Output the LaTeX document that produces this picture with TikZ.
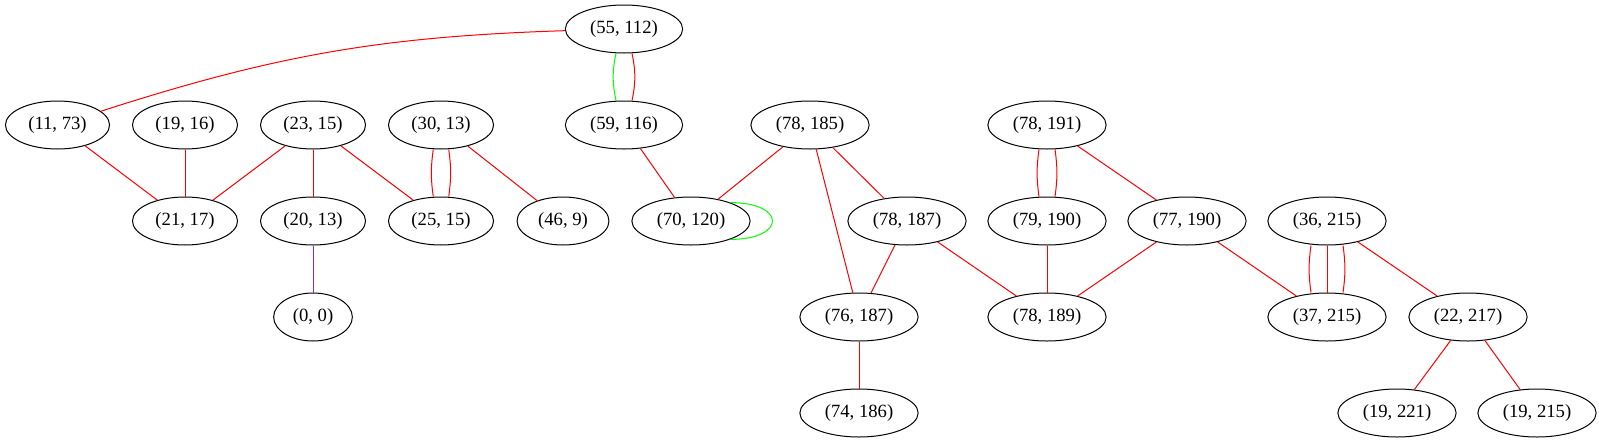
\documentclass[tikz,border=0pt]{standalone}
\usepackage{fontspec}
\setmainfont{Liberation Serif}
\usetikzlibrary{shapes.geometric}
\definecolor{blueviolet}{HTML}{8A2BE2}
\tikzset{
  gnode/.style = {ellipse, draw=black, line width=0.75pt, inner xsep=5.7pt, inner ysep=1pt,
                  minimum height=36pt, font=\fontsize{14}{16}\selectfont},
  e_red/.style = {red, line width=0.75pt},
  e_grn/.style = {green, line width=0.75pt},
  e_vio/.style = {blueviolet, line width=0.75pt},
}

\begin{document}
\begin{tikzpicture}[x=0.75pt, y=-0.75pt]
  \useasboundingbox (0,0) rectangle (1599,443);

  \node [gnode] (n55_112) at (624,29)  {(55, 112)};

  \node [gnode] (n11_73)  at (57.5,125) {(11, 73)};
  \node [gnode] (n19_16)  at (185,125) {(19, 16)};
  \node [gnode] (n23_15)  at (313,125) {(23, 15)};
  \node [gnode] (n30_13)  at (441,125) {(30, 13)};
  \node [gnode] (n59_116) at (624,125) {(59, 116)};
  \node [gnode] (n78_185) at (810,125) {(78, 185)};
  \node [gnode] (n78_191) at (1047,125) {(78, 191)};

  \node [gnode] (n21_17)  at (185,221) {(21, 17)};
  \node [gnode] (n20_13)  at (313,221) {(20, 13)};
  \node [gnode] (n25_15)  at (441,221) {(25, 15)};
  \node [gnode] (n46_9)   at (563,221) {(46, 9)};
  \node [gnode] (n70_120) at (691,221) {(70, 120)};
  \node [gnode] (n78_187) at (907,221) {(78, 187)};
  \node [gnode] (n79_190) at (1047,221) {(79, 190)};
  \node [gnode] (n77_190) at (1187,221) {(77, 190)};
  \node [gnode] (n36_215) at (1327,221) {(36, 215)};

  \node [gnode] (n0_0)    at (313,317) {(0, 0)};
  \node [gnode] (n76_187) at (859,317) {(76, 187)};
  \node [gnode] (n78_189) at (1047,317) {(78, 189)};
  \node [gnode] (n37_215) at (1327,317) {(37, 215)};
  \node [gnode] (n22_217) at (1468,317) {(22, 217)};

  \node [gnode] (n74_186) at (859,413) {(74, 186)};
  \node [gnode] (n19_221) at (1397,413) {(19, 221)};
  \node [gnode] (n19_215) at (1537,413) {(19, 215)};

  \draw [e_red] (n55_112) to[bend right=8] (n11_73);
  \draw [e_grn] ([xshift=-6pt]n55_112.south) to[bend right=12] ([xshift=-6pt]n59_116.north);
  \draw [e_red] ([xshift=6pt]n55_112.south) to[bend left=12] ([xshift=6pt]n59_116.north);

  \draw [e_red] (n11_73) -- (n21_17);
  \draw [e_red] (n19_16) -- (n21_17);
  \draw [e_red] (n23_15) -- (n21_17);
  \draw [e_red] (n23_15) -- (n20_13);
  \draw [e_red] (n23_15) -- (n25_15);
  \draw [e_red] ([xshift=-5.8pt]n30_13.south) to[bend right=8] ([xshift=-5.8pt]n25_15.north);
  \draw [e_red] ([xshift=5.8pt]n30_13.south) to[bend left=8] ([xshift=5.8pt]n25_15.north);
  \draw [e_red] (n30_13) -- (n46_9);
  \draw [e_vio] (n20_13) -- (n0_0);

  \draw [e_red] (n59_116) -- (n70_120);
  \draw [e_red] (n78_185) -- (n70_120);
  \draw [e_grn] (n70_120.25) .. controls +(42pt,0pt) and +(42pt,0pt) .. (n70_120.-25);
  \draw [e_red] (n78_185) -- (n78_187);
  \draw [e_red] (n78_185) -- (n76_187);
  \draw [e_red] (n78_187) -- (n76_187);
  \draw [e_red] (n78_187) -- (n78_189);
  \draw [e_red] (n76_187) -- (n74_186);

  \draw [e_red] ([xshift=-6pt]n78_191.south) to[bend right=8] ([xshift=-6pt]n79_190.north);
  \draw [e_red] ([xshift=6pt]n78_191.south) to[bend left=8] ([xshift=6pt]n79_190.north);
  \draw [e_red] (n78_191) -- (n77_190);
  \draw [e_red] (n79_190) -- (n78_189);
  \draw [e_red] (n77_190) -- (n78_189);
  \draw [e_red] (n77_190) -- (n37_215);

  \draw [e_red] ([xshift=-12pt]n36_215.south) to[bend right=8] ([xshift=-12pt]n37_215.north);
  \draw [e_red] (n36_215) -- (n37_215);
  \draw [e_red] ([xshift=12pt]n36_215.south) to[bend left=8] ([xshift=12pt]n37_215.north);
  \draw [e_red] (n36_215) -- (n22_217);
  \draw [e_red] (n22_217) -- (n19_221);
  \draw [e_red] (n22_217) -- (n19_215);
\end{tikzpicture}
\end{document}
